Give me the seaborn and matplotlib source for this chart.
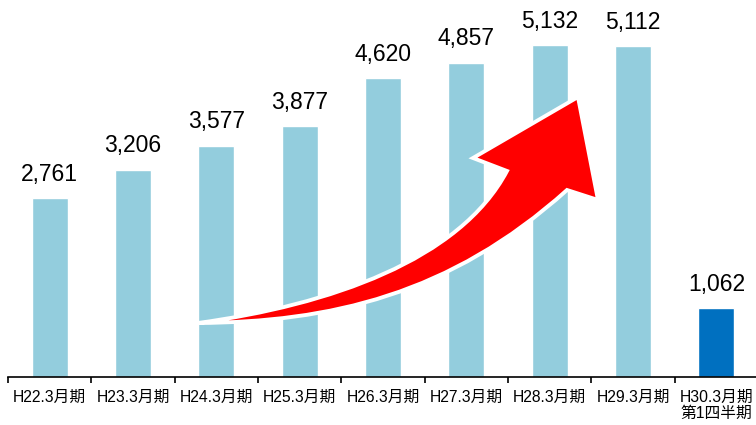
import matplotlib
matplotlib.use("Agg")
import matplotlib.pyplot as plt
from matplotlib.path import Path
from matplotlib.patches import PathPatch
import seaborn as sns
import pandas as pd

# Fiscal periods and their counts
periods = ["H22.3月期", "H23.3月期", "H24.3月期", "H25.3月期", "H26.3月期",
           "H27.3月期", "H28.3月期", "H29.3月期", "H30.3月期\n第1四半期"]
counts = [2761, 3206, 3577, 3877, 4620, 4857, 5132, 5112, 1062]
bar_colors = ["#93CDDD"] * 8 + ["#0070C0"]

sns.set_theme(style="white")
plt.rcParams["font.family"] = ["Liberation Sans", "Noto Sans CJK JP", "DejaVu Sans"]

df = pd.DataFrame({"period": periods, "count": counts})

fig = plt.figure(figsize=(7.56, 4.25), dpi=100)
ax = fig.add_axes([8 / 756, 48 / 425, 750 / 756, 377 / 425])

sns.barplot(data=df, x="period", y="count", hue="period", palette=bar_colors,
            legend=False, width=0.43, saturation=1, ax=ax)

ax.set_xlim(-0.5, len(periods) - 0.5)
ax.set_ylim(0, 5830)

for i, v in enumerate(counts):
    ax.annotate(f"{v:,}", xy=(i, v), xytext=(0, 9), textcoords="offset points",
                ha="center", va="bottom", fontsize=16.5, color="black",
                family=["Liberation Sans", "DejaVu Sans"])

# Axis styling: only the baseline, with ticks between categories
for side in ("top", "right", "left"):
    ax.spines[side].set_visible(False)
ax.spines["bottom"].set_color("black")
ax.spines["bottom"].set_linewidth(1.2)
ax.set_yticks([])
ax.set_xlabel("")
ax.set_ylabel("")
ax.set_xticks(range(len(periods)))
ax.set_xticklabels(periods, fontsize=11.3, color="black", linespacing=1.1)
ax.tick_params(axis="x", which="major", length=0, pad=9)
ax.set_xticks([i - 0.5 for i in range(len(periods) + 1)], minor=True)
ax.tick_params(axis="x", which="minor", length=4, width=1.2, color="black",
               direction="out", bottom=True)

# Curved growth arrow (figure pixel coordinates, origin top-left)
def fp(x, y):
    return (x / 756, 1 - y / 425)

verts = [
    fp(198, 323),
    fp(330, 305), fp(460, 260), fp(507, 171),
    fp(473, 158),
    fp(578, 97),
    fp(598, 200),
    fp(567, 190),
    fp(450, 295), fp(330, 322), fp(198, 323),
    fp(198, 323),
]
codes = [Path.MOVETO,
         Path.CURVE4, Path.CURVE4, Path.CURVE4,
         Path.LINETO, Path.LINETO, Path.LINETO, Path.LINETO,
         Path.CURVE4, Path.CURVE4, Path.CURVE4,
         Path.CLOSEPOLY]
arrow = PathPatch(Path(verts, codes), transform=fig.transFigure,
                  facecolor="#FF0000", edgecolor="white", linewidth=2.8,
                  joinstyle="miter", zorder=5)
fig.patches.append(arrow)

fig.savefig("out.png", dpi=100)
